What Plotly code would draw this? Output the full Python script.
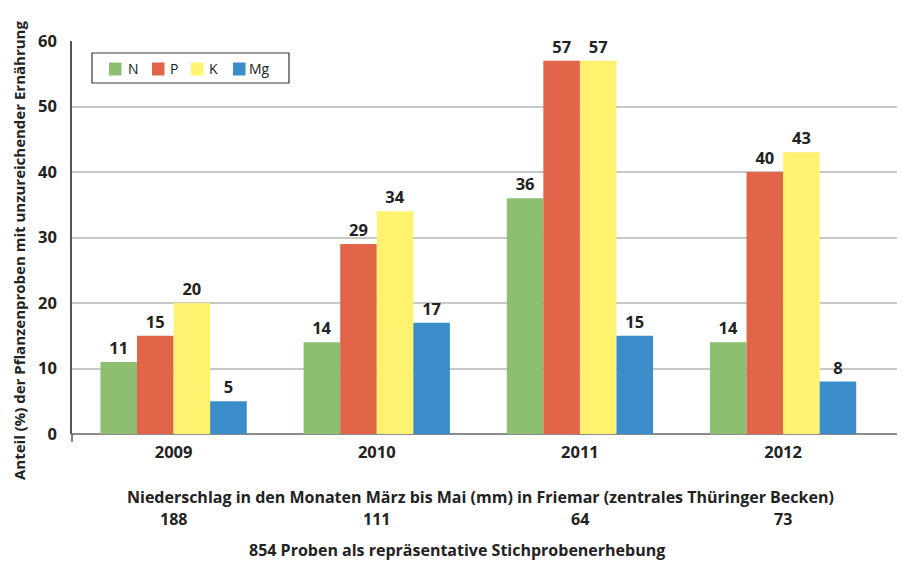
import plotly.graph_objects as go

years = ["2009", "2010", "2011", "2012"]
series_names = ["N", "P", "K", "Mg"]
n_vals = [11, 14, 36, 14]
p_vals = [15, 29, 57, 40]
k_vals = [20, 34, 57, 43]
mg_vals = [5, 17, 15, 8]
colors = ["#8CC070", "#E2654A", "#FEF26E", "#3A8DC9"]
rain = ["188", "111", "64", "73"]
y_ticks = [0, 10, 20, 30, 40, 50, 60]

FONT = "Open Sans"
TXT = "#222222"

# reference-pixel -> paper coordinate helpers (plot area: x 72..905, y 41..434)
def px(x):
    return (x - 72) / 833.0

def py(y):
    return (434 - y) / 393.0

fig = go.Figure()
for name, vals, col in zip(series_names, [n_vals, p_vals, k_vals, mg_vals], colors):
    fig.add_trace(go.Bar(
        name=name, x=years, y=vals, marker=dict(color=col, line=dict(width=0)),
        text=vals, textposition="outside", cliponaxis=False, showlegend=False,
        textfont=dict(family=FONT, size=16.5, color=TXT, weight="bold"),
    ))

fig.update_layout(
    width=897, height=557,
    margin=dict(l=64, r=0, t=33, b=131),
    paper_bgcolor="white", plot_bgcolor="white",
    barmode="group", bargap=0.28, bargroupgap=0,
    font=dict(family=FONT, color=TXT),
    showlegend=False,
    xaxis=dict(
        type="category", range=[-0.5, 3.6], showgrid=False,
        showline=False, ticks="", ticklabelstandoff=6,
        tickfont=dict(family=FONT, size=16.5, color=TXT, weight="bold"),
    ),
    yaxis=dict(
        range=[0, 60], tickvals=y_ticks, showgrid=True, gridcolor="#C8C8C8", gridwidth=1.5,
        zeroline=True, zerolinecolor="#8C8C8C", zerolinewidth=1.5,
        showline=True, linecolor="#555555", linewidth=1.5,
        ticks="", ticklabelstandoff=10,
        tickfont=dict(family=FONT, size=16.5, color=TXT, weight="bold"),
    ),
)

# y axis title placed like the reference (centred lower than the plot area)
fig.add_annotation(
    text="Anteil (%) der Pflanzenproben mit unzureichender Ernährung",
    xref="paper", yref="paper", x=px(19), y=py(251), xanchor="center", yanchor="middle",
    textangle=-90, showarrow=False,
    font=dict(family=FONT, size=15, color=TXT, weight="bold"),
)

# small extension of the y axis line below zero
fig.add_shape(type="line", xref="paper", yref="paper",
              x0=0, x1=0, y0=0, y1=py(442),
              line=dict(color="#555555", width=1.5))

# custom legend box
fig.add_shape(type="rect", xref="paper", yref="paper",
              x0=px(92), x1=px(289), y0=py(83), y1=py(53),
              line=dict(color="#333333", width=1.2), fillcolor="white", layer="above")
sw_x = [109, 152, 191, 233]
tx_x = [126, 168, 207, 247]
for name, col, sx, tx in zip(series_names, colors, sw_x, tx_x):
    fig.add_shape(type="rect", xref="paper", yref="paper",
                  x0=px(sx), x1=px(sx + 12.5), y0=py(75.5), y1=py(62.5),
                  line=dict(width=0), fillcolor=col, layer="above")
    fig.add_annotation(text=name, xref="paper", yref="paper", x=px(tx), y=py(69),
                       xanchor="left", yanchor="middle", showarrow=False,
                       font=dict(family=FONT, size=14, color=TXT))

fig.add_annotation(
    text="Niederschlag in den Monaten März bis Mai (mm) in Friemar (zentrales Thüringer Becken)",
    xref="paper", yref="paper", x=px(480), y=py(497), xanchor="center", yanchor="middle",
    showarrow=False, font=dict(family=FONT, size=16, color=TXT, weight="bold"),
)
for i, r in enumerate(rain):
    fig.add_annotation(
        text=r, xref="x", yref="paper", x=i, y=py(519), xanchor="center", yanchor="middle",
        showarrow=False, font=dict(family=FONT, size=16, color=TXT, weight="bold"),
    )
fig.add_annotation(
    text="854 Proben als repräsentative Stichprobenerhebung",
    xref="paper", yref="paper", x=px(457), y=py(550), xanchor="center", yanchor="middle",
    showarrow=False, font=dict(family=FONT, size=16, color=TXT, weight="bold"),
)

fig.write_html("out.html")
